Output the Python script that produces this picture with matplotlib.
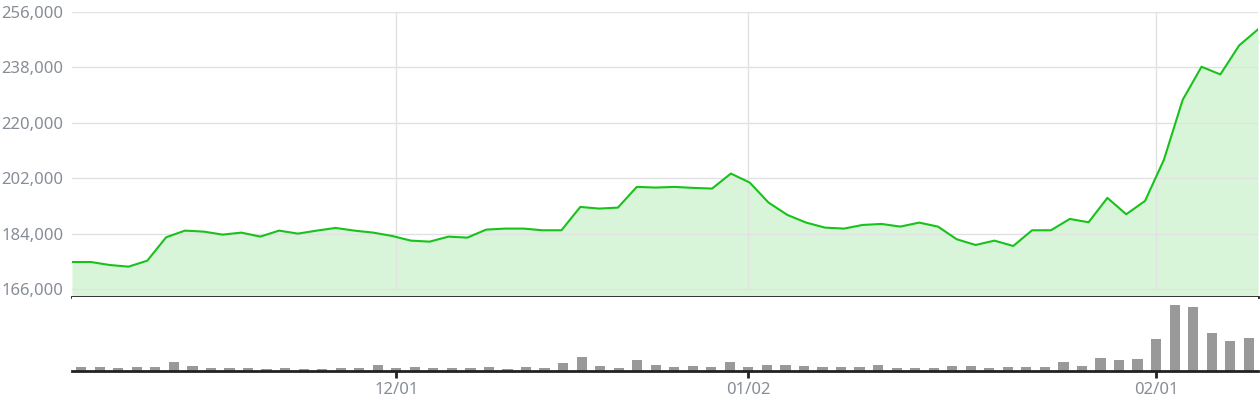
import numpy as np
import matplotlib
matplotlib.use("Agg")
import matplotlib.pyplot as plt

plt.rcParams['font.family'] = ['Noto Sans', 'DejaVu Sans']

# closing values, one per trading day (64 sessions)
prices = [
    174775, 174775, 173800, 173257, 175208, 182800, 184968, 184643,
    183667, 184318, 183017, 184968, 183993, 184968, 185835, 184968,
    184318, 183233, 181715, 181390, 183017, 182692, 185294, 185619,
    185619, 185077, 185077, 192667, 192125, 192450, 199173, 198956,
    199173, 198848, 198631, 203510, 200582, 194077, 190065, 187571,
    185944, 185619, 186812, 187137, 186270, 187571, 186270, 182149,
    180306, 181715, 179980, 185077, 185077, 188764, 187680, 195595,
    190282, 194619, 207956, 227473, 238208, 235714, 245147, 250352,
]

# traded volume per session
volumes = [
    4300, 4300, 3300, 4300, 4300, 9300, 5300, 3300,
    3300, 3300, 2300, 3300, 2300, 2300, 3300, 3300,
    6300, 3300, 4300, 3300, 3300, 3300, 4300, 2300,
    4300, 3300, 8300, 14300, 5300, 3300, 11300, 6300,
    4300, 5300, 4300, 9300, 4300, 6300, 6300, 5300,
    4300, 4300, 4300, 6300, 3300, 3300, 3300, 5300,
    5300, 3300, 4300, 4300, 4300, 9300, 5300, 13300,
    11300, 12300, 32300, 65700, 64300, 37700, 30300, 33300,
]

# date labels and the session they sit on
tick_labels = ['12/01', '01/02', '02/01']
tick_sessions = [17, 36, 58]

price_ticks = [166000, 184000, 202000, 220000, 238000, 256000]

LINE = '#17c21b'
FILL = '#d9f5d9'
GRID = '#e1e1e3'
TEXT = '#878d97'
AXIS = '#222222'

n = len(prices)
# line runs edge to edge, bars sit in bands
line_x = np.linspace(0, n, n)
bar_x = np.arange(n) + 0.5
tick_x = [s + 0.5 for s in tick_sessions]

fig = plt.figure(figsize=(12.6, 4), dpi=100)
ax = fig.add_axes([72 / 1260, 103 / 400, 1186 / 1260, 285 / 400])
axv = fig.add_axes([72 / 1260, 29 / 400, 1186 / 1260, 74 / 400])

# price panel
ax.fill_between(line_x, prices, 150000, color=FILL, lw=0, zorder=1)
ax.plot(line_x, prices, color=LINE, lw=1.5, zorder=3)
ax.set_xlim(0, n)
ax.set_ylim(163400, 256000)
ax.set_yticks(price_ticks)
ax.set_yticklabels([f'{v:,}' for v in price_ticks])
ax.set_xticks([])
ax.grid(True, axis='y', color=GRID, lw=1, zorder=2)
# vertical grid only spans the labelled price range
ax.vlines(tick_x, price_ticks[0], price_ticks[-1], color=GRID, lw=1, zorder=2)
ax.set_axisbelow(False)
ax.tick_params(axis='both', length=0, labelsize=12, colors=TEXT, pad=6)
for s in ['top', 'left', 'right']:
    ax.spines[s].set_visible(False)
ax.spines['bottom'].set_color(AXIS)
ax.spines['bottom'].set_linewidth(2)
ax.spines['bottom'].set_zorder(5)

# volume panel
axv.bar(bar_x, volumes, width=0.55, color='#999999', zorder=2)
axv.set_xlim(0, n)
axv.set_ylim(0, 74000)
axv.set_yticks([])
axv.set_xticks(tick_x)
axv.set_xticklabels(tick_labels)
axv.tick_params(axis='x', length=5, width=2, color=AXIS, labelsize=12,
                labelcolor=TEXT, pad=3)
for s in ['top', 'left', 'right']:
    axv.spines[s].set_visible(False)
axv.spines['bottom'].set_color(AXIS)
axv.spines['bottom'].set_linewidth(2)

fig.savefig('out.png', dpi=100)
